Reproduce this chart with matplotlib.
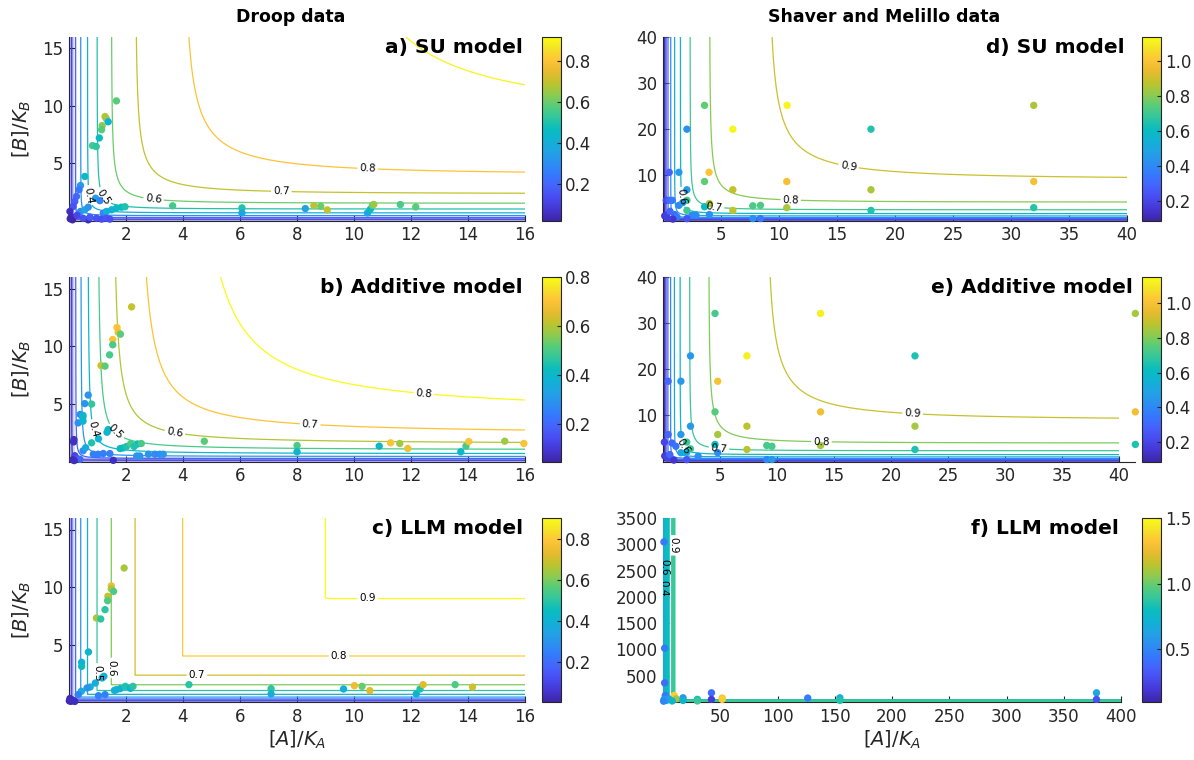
import numpy as np
import matplotlib
matplotlib.use('Agg')
import matplotlib.pyplot as plt
from matplotlib.colors import LinearSegmentedColormap, Normalize
from matplotlib.cm import ScalarMappable
from matplotlib.ticker import FormatStrFormatter

plt.rcParams['font.family'] = ['DejaVu Sans']
plt.rcParams['mathtext.fontset'] = 'dejavusans'

# ---------------- parula-like colormap ----------------
PARULA = [(0.2422, 0.1504, 0.6603), (0.2704, 0.2138, 0.8346), (0.2813, 0.2985, 0.9397),
          (0.2710, 0.3860, 0.9898), (0.2066, 0.4743, 0.9926), (0.1740, 0.5605, 0.9432),
          (0.1321, 0.6363, 0.8932), (0.0628, 0.6972, 0.8355), (0.0369, 0.7400, 0.7426),
          (0.1954, 0.7765, 0.6225), (0.3424, 0.8009, 0.4774), (0.5609, 0.7943, 0.3050),
          (0.7468, 0.7654, 0.1782), (0.9093, 0.7321, 0.1815), (0.9969, 0.7683, 0.2181),
          (0.9619, 0.8840, 0.1557), (0.9769, 0.9839, 0.0805)]
cmap = LinearSegmentedColormap.from_list('parula', PARULA, N=256)

# ---------------- data: Droop (panels a-c) ----------------
a_x = [1.68, 1.28, 1.32, 1.39, 1.18, 1.16, 1.08, 0.84, 0.97, 0.57, 0.42, 0.37, 0.28, 0.22, 0.16, 0.95, 1.10,
       0.42, 0.57, 0.69, 1.22, 1.33, 1.51, 1.68, 1.86, 1.98, 3.65, 6.08, 6.08, 8.30, 8.60, 8.84, 9.07, 10.48,
       10.58, 10.65, 10.70, 11.63, 12.17, 0.05, 0.10, 0.14, 0.06, 0.69, 0.51, 0.75, 0.98, 1.16, 1.33, 1.45, 0.30]
a_y = [10.43, 9.07, 8.90, 8.61, 8.27, 7.92, 7.20, 6.53, 6.45, 3.84, 3.05, 2.68, 2.10, 1.66, 1.22, 1.94, 1.73,
       0.79, 0.93, 1.16, 0.64, 0.79, 0.93, 1.08, 1.16, 1.20, 1.28, 1.10, 0.66, 1.04, 1.30, 1.24, 0.92, 0.66,
       0.98, 1.33, 1.40, 1.39, 1.18, 0.79, 0.35, 0.06, 0.15, 0.06, 0.20, 0.29, 0.20, 0.12, 0.20, 0.12, 0.45]
a_c = [0.58, 0.68, 0.66, 0.42, 0.63, 0.58, 0.47, 0.55, 0.52, 0.45, 0.33, 0.25, 0.20, 0.18, 0.15, 0.35, 0.28,
       0.30, 0.38, 0.32, 0.28, 0.40, 0.42, 0.45, 0.47, 0.50, 0.55, 0.50, 0.38, 0.36, 0.68, 0.60, 0.70, 0.38,
       0.45, 0.60, 0.65, 0.56, 0.58, 0.05, 0.04, 0.03, 0.03, 0.04, 0.15, 0.17, 0.15, 0.14, 0.16, 0.14, 0.12]

b_x = [2.21, 1.70, 1.74, 1.82, 1.55, 1.55, 1.44, 1.14, 1.28, 0.69, 0.81, 0.57, 0.41, 0.51, 0.34, 0.51, 0.50,
       0.19, 0.18, 1.35, 1.39, 1.05, 0.81, 1.81, 1.92, 2.03, 2.18, 2.42, 2.55, 2.30, 4.76, 8.01, 8.01, 10.89,
       11.29, 11.61, 11.89, 13.75, 13.93, 14.03, 15.29, 15.96, 2.39, 2.50, 2.80, 3.03, 3.20, 3.32, 1.22, 1.45,
       1.57, 0.87, 1.04, 0.51, 0.60, 0.22, 0.28, 0.40, 0.15, 0.20]
b_y = [13.41, 11.62, 11.21, 11.04, 10.58, 10.12, 9.25, 8.32, 8.27, 5.76, 4.98, 5.02, 4.08, 3.99, 3.35, 3.50,
       3.80, 1.90, 1.70, 2.54, 2.77, 1.97, 1.62, 1.12, 1.18, 1.30, 1.55, 1.52, 1.56, 1.30, 1.76, 1.39, 0.84,
       1.33, 1.62, 1.56, 1.13, 0.84, 1.33, 1.73, 1.76, 1.56, 0.48, 0.48, 0.63, 0.63, 0.63, 0.63, 0.69, 0.69,
       0.10, 0.63, 0.63, 0.93, 1.20, 0.50, 0.28, 0.19, 0.15, 0.08]
b_c = [0.62, 0.70, 0.68, 0.52, 0.70, 0.50, 0.50, 0.63, 0.52, 0.30, 0.47, 0.30, 0.28, 0.38, 0.28, 0.38, 0.40,
       0.08, 0.08, 0.38, 0.40, 0.38, 0.45, 0.42, 0.42, 0.45, 0.50, 0.42, 0.50, 0.45, 0.52, 0.50, 0.40, 0.40,
       0.70, 0.58, 0.68, 0.40, 0.50, 0.70, 0.58, 0.70, 0.30, 0.30, 0.30, 0.28, 0.28, 0.30, 0.25, 0.25,
       0.08, 0.25, 0.25, 0.28, 0.35, 0.12, 0.15, 0.20, 0.06, 0.07]

c_x = [1.95, 1.50, 1.50, 1.58, 1.38, 1.37, 1.28, 0.98, 1.13, 0.70, 0.46, 0.46, 1.24, 1.18, 0.94, 0.76, 0.65,
       0.45, 0.34, 1.05, 1.28, 1.61, 1.68, 1.81, 1.99, 2.17, 2.26, 4.22, 7.10, 7.10, 9.64, 10.02, 10.29, 10.56,
       12.19, 12.32, 12.43, 13.55, 14.16, 0.03, 0.08, 0.15, 0.22, 0.05, 0.12]
c_y = [11.65, 10.10, 9.83, 9.62, 9.19, 8.81, 8.03, 7.30, 7.22, 4.35, 3.45, 3.10, 2.23, 2.09, 1.65, 1.30, 1.22,
       0.93, 0.64, 0.55, 0.64, 1.01, 1.07, 1.16, 1.36, 1.19, 1.36, 1.51, 1.16, 0.70, 1.13, 1.42, 1.36, 0.99,
       0.70, 1.13, 1.51, 1.51, 1.30, 0.10, 0.06, 0.12, 0.05, 0.30, 0.20]
c_c = [0.65, 0.75, 0.65, 0.55, 0.68, 0.55, 0.50, 0.65, 0.50, 0.42, 0.38, 0.45, 0.38, 0.38, 0.38, 0.38, 0.30,
       0.38, 0.25, 0.25, 0.25, 0.40, 0.40, 0.40, 0.48, 0.40, 0.50, 0.50, 0.50, 0.38, 0.38, 0.75, 0.58, 0.72,
       0.40, 0.48, 0.72, 0.55, 0.70, 0.01, 0.02, 0.02, 0.03, 0.02, 0.03]

# ---------------- data: Shaver and Melillo (panels d-f) ----------------
d_x = [3.58, 10.70, 31.96, 2.06, 6.02, 17.93, 0.54, 1.37, 3.97, 3.58, 10.67, 31.96, 6.02, 17.93, 2.06, 2.06,
       4.00, 3.58, 7.74, 8.40, 10.67, 6.02, 17.93, 31.96, 2.06, 4.00, 7.74, 8.40, 2.50, 2.85, 0.28, 0.54, 0.80,
       1.37, 1.70, 0.15, 0.30, 1.00, 1.20, 2.06, 0.85, 0.40, 0.60]
d_y = [25.1, 25.1, 25.1, 19.9, 19.9, 19.9, 10.5, 10.5, 10.5, 8.5, 8.5, 8.5, 6.7, 6.7, 6.7, 4.4, 3.7, 3.0, 3.2,
       3.3, 2.8, 2.2, 2.2, 2.8, 2.2, 1.3, 0.43, 0.43, 1.15, 1.15, 4.4, 4.4, 4.4, 3.3, 3.9, 1.0, 1.2, 1.3, 0.8,
       0.4, 0.3, 0.5, 2.0]
d_c = [0.75, 1.12, 0.85, 0.42, 1.12, 0.65, 0.28, 0.45, 1.00, 0.75, 0.98, 0.98, 0.88, 0.85, 0.45, 0.70, 0.85,
       0.60, 0.72, 0.72, 0.85, 0.88, 0.65, 0.65, 0.70, 0.42, 0.42, 0.35, 0.40, 0.40, 0.20, 0.30, 0.35, 0.40,
       0.45, 0.15, 0.18, 0.30, 0.35, 0.25, 0.15, 0.18, 0.30]

e_x = [4.56, 13.82, 41.43, 2.41, 7.36, 22.10, 0.45, 1.57, 4.80, 4.56, 13.82, 41.43, 7.36, 22.10, 2.41, 4.80,
       1.57, 0.45, 2.08, 2.41, 4.56, 9.10, 9.55, 13.82, 7.36, 22.10, 41.43, 1.57, 2.08, 3.08, 4.80, 9.10, 9.55,
       0.12, 0.79, 1.13, 0.15, 0.40, 0.60, 0.95, 2.08]
e_y = [32.1, 32.1, 32.1, 22.9, 22.9, 22.9, 17.4, 17.4, 17.4, 10.76, 10.76, 10.76, 7.65, 7.65, 7.65, 5.85, 5.85,
       5.85, 4.2, 2.75, 3.7, 3.47, 3.3, 3.47, 2.6, 2.6, 3.7, 1.9, 2.0, 1.15, 1.9, 0.43, 0.43, 4.2, 4.0, 3.3,
       1.2, 0.8, 1.5, 0.3, 0.4]
e_c = [0.72, 1.12, 0.85, 0.45, 1.12, 0.65, 0.30, 0.45, 1.00, 0.75, 0.98, 0.98, 0.88, 0.85, 0.45, 0.85, 0.45,
       0.30, 0.70, 0.70, 0.62, 0.72, 0.72, 0.85, 0.88, 0.65, 0.65, 0.50, 0.55, 0.42, 0.42, 0.40, 0.45, 0.20,
       0.30, 0.35, 0.18, 0.20, 0.30, 0.15, 0.25]

f_x = [0.8, 1.4, 1.4, 2.0, 9.8, 11.5, 17.5, 17.5, 30.0, 30.0, 42.3, 42.3, 51.7, 51.7, 126.4, 154.5, 154.5,
       378.6, 378.6, 1.0, 3.0, 5.0, 8.0, 0.5]
f_y = [3045, 1023, 364, 125, 125, 60, 80, 30, 50, 20, 175, 50, 75, 50, 75, 80, 30, 175, 50, 50, 30, 60, 20, 15]
f_c = [0.45, 0.45, 0.40, 0.45, 1.35, 1.10, 0.55, 0.75, 0.80, 0.90, 0.40, 0.20, 1.30, 1.35, 0.45, 0.70, 0.85,
       0.65, 0.30, 0.55, 0.65, 0.60, 0.75, 0.50]

# colour limits of each panel
a_clim = (0.022, 0.918)
b_clim = (0.048, 0.800)
c_clim = (0.005, 0.900)
d_clim = (0.086, 1.139)
e_clim = (0.090, 1.149)
f_clim = (0.099, 1.500)

LEVELS = np.arange(1, 10) / 10


def su_model(a, b):
    return 1.0 / (1.0 + 1.0 / a + 1.0 / b - 1.0 / (a + b))


def additive_model(a, b):
    return 1.0 / (1.0 + 1.0 / a + 1.0 / b)


def llm_model(a, b):
    return np.minimum(a / (1.0 + a), b / (1.0 + b))


W, H = 1194.0, 760.0


def rect(x0, x1, top, bottom):
    return [x0 / W, 1 - bottom / H, (x1 - x0) / W, (bottom - top) / H]


ROWS = [(37, 220.5), (277, 461.5), (518, 702)]

panels = [
    dict(title='a) SU model', model=su_model, x=a_x, y=a_y, c=a_c, clim=a_clim,
         grid=(16, 16), xlim=(0, 16), ylim=(0, 16), xt=range(2, 17, 2), yt=[5, 10, 15],
         ct=[0.2, 0.4, 0.6, 0.8], ax=(68.5, 525), cb=(542, 561), row=0, lw=0.9, cz=2,
         labels=[(0.74, 2.2), (1.21, 2.05), (2.98, 1.9), (7.46, 2.54), (10.48, 4.5)]),
    dict(title='b) Additive model', model=additive_model, x=b_x, y=b_y, c=b_c, clim=b_clim,
         grid=(16, 16), xlim=(0, 16), ylim=(0, 16), xt=range(2, 17, 2), yt=[5, 10, 15],
         ct=[0.2, 0.4, 0.6, 0.8], ax=(68.5, 525), cb=(542, 561), row=1, lw=0.9, cz=2,
         labels=[(0.85, 2.77), (1.64, 2.54), (3.73, 2.5), (8.47, 3.2), (12.46, 5.9)]),
    dict(title='c) LLM model', model=llm_model, x=c_x, y=c_y, c=c_c, clim=c_clim,
         grid=(16, 16), xlim=(0, 16), ylim=(0, 16), xt=range(2, 17, 2), yt=[5, 10, 15],
         ct=[0.2, 0.4, 0.6, 0.8], ax=(68.5, 525), cb=(542, 561), row=2, lw=0.9, cz=2,
         labels=[(1.0, 2.5), (1.5, 2.96), (4.5, 2.35), (9.48, 4.0), (10.48, 9.0)]),
    dict(title='d) SU model', model=su_model, x=d_x, y=d_y, c=d_c, clim=d_clim,
         grid=(40, 40), xlim=(0, 40), ylim=(0, 40), xt=range(5, 41, 5), yt=[10, 20, 30, 40],
         ct=[0.2, 0.4, 0.6, 0.8, 1.0], ax=(663, 1127), cb=(1142, 1161), row=0, lw=0.9, cz=2,
         labels=[(1.63, 5.1), (4.4, 2.8), (11.0, 4.4), (15.99, 11.7)]),
    dict(title='e) Additive model', model=su_model, x=e_x, y=e_y, c=e_c, clim=e_clim,
         grid=(40, 40), xlim=(0, 41.4), ylim=(0, 40), xt=range(5, 41, 5), yt=[10, 20, 30, 40],
         ct=[0.2, 0.4, 0.6, 0.8, 1.0], ax=(663, 1135), cb=(1142, 1161), row=1, lw=0.9, cz=2,
         labels=[(1.8, 3.3), (4.9, 2.7), (13.9, 4.2), (21.9, 10.4)]),
    dict(title='f) LLM model', model=llm_model, x=f_x, y=f_y, c=f_c, clim=f_clim,
         grid=(400, 3500), xlim=(0, 400), ylim=(0, 3500), xt=range(50, 401, 50), yt=range(500, 3501, 500),
         ct=[0.5, 1.0, 1.5], ax=(663, 1121), cb=(1142, 1161), row=2, lw=3.2, cz=2.6,
         labels=[(0.67, 2165), (1.5, 2570), (9.0, 2980)]),
]

fig = plt.figure(figsize=(11.94, 7.6), dpi=100)
AXC = (0.15, 0.15, 0.15)

for i, p in enumerate(panels):
    top, bot = ROWS[p['row']]
    ax = fig.add_axes(rect(p['ax'][0], p['ax'][1], top, bot))
    norm = Normalize(vmin=p['clim'][0], vmax=p['clim'][1])
    ga = np.geomspace(1e-3, p['grid'][0], 700)
    gb = np.geomspace(1e-3, p['grid'][1], 700)
    A, B = np.meshgrid(ga, gb)
    Z = p['model'](A, B)
    # soft band produced by the dense low contour levels near the axes
    ax.contour(A, B, Z, levels=[0.05, 0.1], colors=[(0.45, 0.45, 0.88)], linewidths=4.0,
               alpha=0.35, zorder=1)
    cs = ax.contour(A, B, Z, levels=LEVELS, cmap=cmap, norm=norm, linewidths=p['lw'],
                    zorder=p['cz'])
    ax.set_xlim(*p['xlim'])
    ax.set_ylim(*p['ylim'])
    ax.clabel(cs, manual=p['labels'], inline=True, inline_spacing=2,
              fmt='%.1f', fontsize=7.5, colors='k')
    ax.scatter(p['x'], p['y'], c=p['c'], cmap=cmap, norm=norm, s=28, linewidths=0,
               zorder=3, clip_on=False)
    ax.set_xticks(list(p['xt']))
    ax.set_yticks(list(p['yt']))
    for s in ['top', 'right']:
        ax.spines[s].set_visible(False)
    for s in ['left', 'bottom']:
        ax.spines[s].set_color(AXC)
        ax.spines[s].set_linewidth(0.8)
    ax.tick_params(direction='in', length=4, width=0.8, color=AXC, labelsize=12,
                   labelcolor=AXC, pad=4)
    ax.text(0.995, 0.995, p['title'], transform=ax.transAxes, ha='right', va='top',
            fontsize=14.5, fontweight='bold', zorder=5)
    if p['ax'][0] < 300:
        ax.set_ylabel(r'$[B]/K_B$', fontsize=14, color=AXC, labelpad=6)
    if p['row'] == 2:
        ax.set_xlabel(r'$[A]/K_A$', fontsize=14, color=AXC, labelpad=2)

    cax = fig.add_axes(rect(p['cb'][0], p['cb'][1], top, bot))
    cb = fig.colorbar(ScalarMappable(norm=norm, cmap=cmap), cax=cax, ticks=p['ct'])
    cb.ax.yaxis.set_major_formatter(FormatStrFormatter('%.1f'))
    cb.ax.tick_params(direction='in', length=3, width=0.8, color=AXC, labelsize=12,
                      labelcolor=AXC, pad=3)
    cb.outline.set_edgecolor(AXC)
    cb.outline.set_linewidth(0.8)

fig.text(291 / W, 1 - 17 / H, 'Droop data', ha='center', va='center', fontsize=12.5,
         fontweight='bold')
fig.text(884 / W, 1 - 17 / H, 'Shaver and Melillo data', ha='center', va='center',
         fontsize=12.5, fontweight='bold')

fig.savefig('out.png', dpi=100)
